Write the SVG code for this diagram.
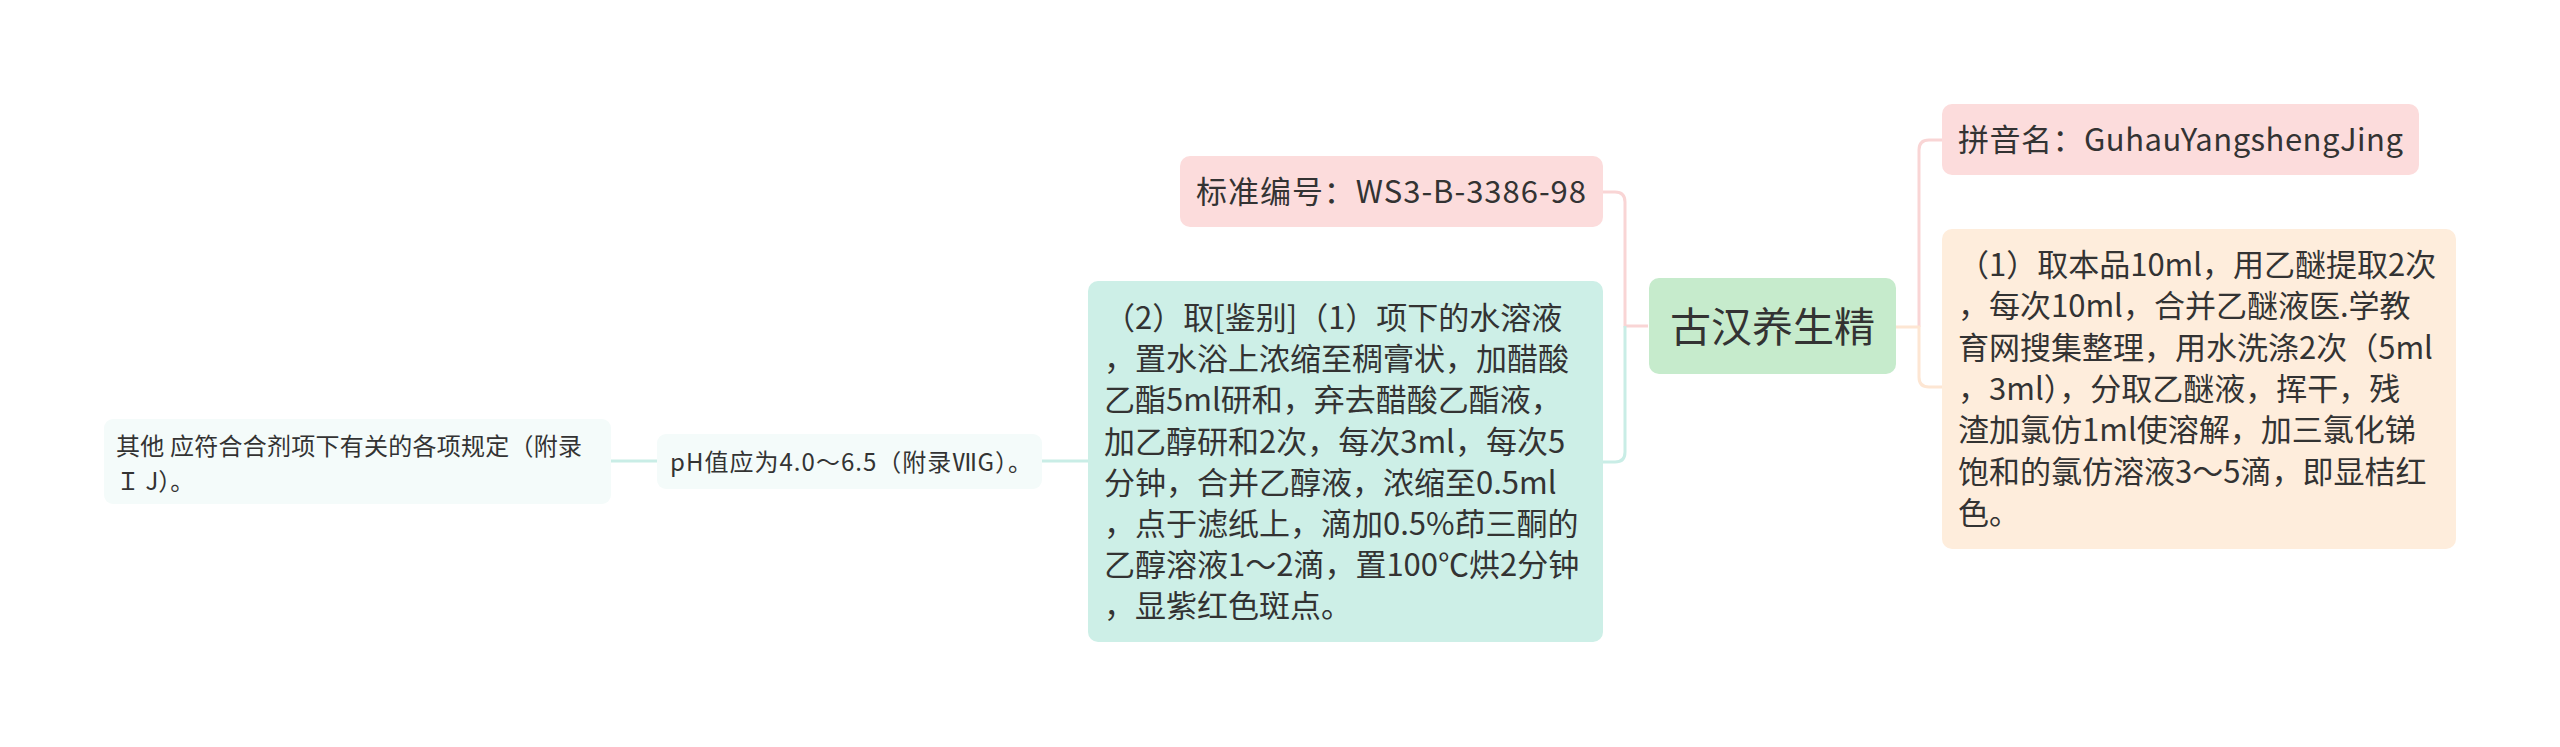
<svg xmlns="http://www.w3.org/2000/svg" width="2560" height="747" viewBox="0 0 2560 747">
<style>
text{font-family:"Noto Sans CJK SC","Noto Sans",sans-serif;fill:#333;}
.t31{font-size:31px;}
.t24{font-size:24px;}
.t41{font-size:41px;}
.c{fill:none;stroke-width:3;}
.pink{fill:#fcdcdc;}
.teal{fill:#cdefe7;}
.root{fill:#c6ebcc;}
.peach{fill:#feeddc;}
.light{fill:#f4fbfa;}
</style>
<rect width="2560" height="747" fill="#ffffff"/>
<g id="connectors">
<path class="c" stroke="#f9d5d5" d="M1603,192 H1615 Q1625,192 1625,202 V326 H1648"/>
<path class="c" stroke="#c9ede6" d="M1603,462 H1615 Q1625,462 1625,452 V326"/>
<path class="c" stroke="#f9d5d5" d="M1943,140 H1929 Q1919,140 1919,150 V327"/>
<path class="c" stroke="#fde6d3" d="M1896,327 H1919 V377 Q1919,387 1929,387 H1943"/>
<path class="c" stroke="#c9ede6" d="M1042,461 H1088"/>
<path class="c" stroke="#c9ede6" d="M611,461 H657"/>
</g>
<g id="root">
<rect class="root" x="1649" y="278" width="247" height="96" rx="10"/>
<text class="t41" x="1670" y="342">古汉养生精</text>
</g>
<g id="pinyin">
<rect class="pink" x="1942" y="104" width="477" height="71" rx="10"/>
<text class="t31" x="1958" y="151" textLength="445" lengthAdjust="spacing">拼音名：GuhauYangshengJing</text>
</g>
<g id="test1">
<rect class="peach" x="1942" y="229" width="514" height="320" rx="10"/>
<text class="t31" x="1958" y="276">
<tspan x="1958">（1）取本品10ml，用乙醚提取2次</tspan>
<tspan x="1958" dy="41.3">，每次10ml，合并乙醚液医.学教</tspan>
<tspan x="1958" dy="41.3">育网搜集整理，用水洗涤2次（5ml</tspan>
<tspan x="1958" dy="41.3">，3ml），分取乙醚液，挥干，残</tspan>
<tspan x="1958" dy="41.3">渣加氯仿1ml使溶解，加三氯化锑</tspan>
<tspan x="1958" dy="41.3">饱和的氯仿溶液3～5滴，即显桔红</tspan>
<tspan x="1958" dy="41.3">色。</tspan>
</text>
</g>
<g id="standard">
<rect class="pink" x="1180" y="156" width="423" height="71" rx="10"/>
<text class="t31" x="1196" y="203" textLength="390" lengthAdjust="spacing">标准编号：WS3-B-3386-98</text>
</g>
<g id="test2">
<rect class="teal" x="1088" y="281" width="515" height="361" rx="10"/>
<text class="t31" x="1104" y="329">
<tspan x="1104">（2）取[鉴别]（1）项下的水溶液</tspan>
<tspan x="1104" dy="41.2">，置水浴上浓缩至稠膏状，加醋酸</tspan>
<tspan x="1104" dy="41.2">乙酯5ml研和，弃去醋酸乙酯液，</tspan>
<tspan x="1104" dy="41.2">加乙醇研和2次，每次3ml，每次5</tspan>
<tspan x="1104" dy="41.2">分钟，合并乙醇液，浓缩至0.5ml</tspan>
<tspan x="1104" dy="41.2">，点于滤纸上，滴加0.5%茚三酮的</tspan>
<tspan x="1104" dy="41.2">乙醇溶液1～2滴，置100℃烘2分钟</tspan>
<tspan x="1104" dy="41.2">，显紫红色斑点。</tspan>
</text>
</g>
<g id="ph">
<rect class="light" x="657" y="434" width="385" height="55" rx="9"/>
<text class="t24" x="670" y="471" textLength="362" lengthAdjust="spacing">pH值应为4.0～6.5（附录ⅦG）。</text>
</g>
<g id="other">
<rect class="light" x="104" y="419" width="507" height="85" rx="9"/>
<text class="t24" x="116" y="455">
<tspan x="116" textLength="466" lengthAdjust="spacing">其他 应符合合剂项下有关的各项规定（附录</tspan>
<tspan x="116" dy="35">Ｉ J）。</tspan>
</text>
</g>
</svg>
